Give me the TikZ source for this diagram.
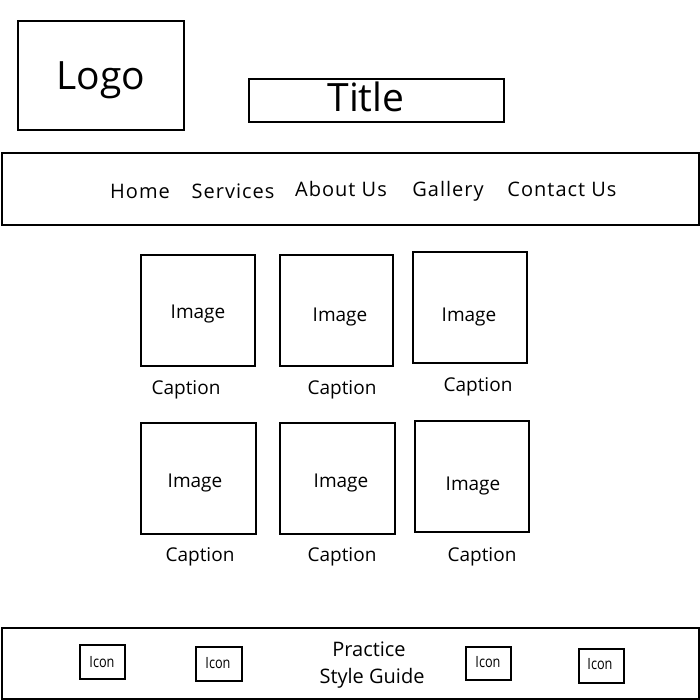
\documentclass[tikz,border=0pt]{standalone}
\usepackage{fontspec}
\setmainfont{Open Sans}
\newfontfamily\condfont[FakeStretch=0.82]{Open Sans}
\newfontfamily\navfont[LetterSpace=5]{Open Sans}
\begin{document}
\begin{tikzpicture}[x=1pt,y=-1pt,
  frame/.style={draw=black,line width=2pt},
  txt/.style={anchor=base,inner sep=0pt,font=\fontsize{19}{22}\selectfont},
  navtxt/.style={anchor=base,inner sep=0pt,font=\navfont\fontsize{20}{23}\selectfont},
  foottxt/.style={anchor=base,inner sep=0pt,font=\fontsize{20}{23}\selectfont},
  big/.style={anchor=base,inner sep=0pt,font=\fontsize{39}{44}\selectfont},
  icontxt/.style={anchor=base,inner sep=0pt,font=\condfont\fontsize{15.5}{17}\selectfont}]
\useasboundingbox[fill=white] (0,0) rectangle (700,700);
% header
\draw[frame] (18,21) rectangle (184,130);
\node[big] (logo) at (101,90) {Logo};
\draw[frame] (249,79) rectangle (504,122);
\node[big] (title) at (366,112) {Title};
% nav
\draw[frame] (2,153) rectangle (699,225);
\node[navtxt] (home) at (140,199) {Home};
\node[navtxt] (services) at (233,199) {Services};
\node[navtxt] (about) at (341,197) {About Us};
\node[navtxt] (gallery) at (448,197) {Gallery};
\node[navtxt] (contact) at (562,197) {Contact Us};
% images row 1
\draw[frame] (141,255) rectangle (255,366);
\draw[frame] (280,255) rectangle (393,366);
\draw[frame] (413,252) rectangle (527,363);
\node[txt] (img1) at (198,318) {Image};
\node[txt] (img2) at (340,321) {Image};
\node[txt] (img3) at (469,321) {Image};
\node[txt] (cap1) at (186,394) {Caption};
\node[txt] (cap2) at (342,394) {Caption};
\node[txt] (cap3) at (478,391) {Caption};
% images row 2
\draw[frame] (141,423) rectangle (256,534);
\draw[frame] (280,423) rectangle (395,534);
\draw[frame] (415,421) rectangle (529,532);
\node[txt] (img4) at (195,487) {Image};
\node[txt] (img5) at (341,487) {Image};
\node[txt] (img6) at (473,490) {Image};
\node[txt] (cap4) at (200,561) {Caption};
\node[txt] (cap5) at (342,561) {Caption};
\node[txt] (cap6) at (482,561) {Caption};
% footer
\draw[frame] (2,628) rectangle (699,699);
\draw[frame] (80,645) rectangle (125,679);
\draw[frame] (196,647) rectangle (242,681);
\draw[frame] (466,647) rectangle (511,680);
\draw[frame] (579,649) rectangle (624,683);
\node[icontxt] (icon1) at (102,667) {Icon};
\node[icontxt] (icon2) at (218,668) {Icon};
\node[icontxt] (icon3) at (488,667) {Icon};
\node[icontxt] (icon4) at (600,669) {Icon};
\node[foottxt] (practice) at (369,656) {Practice};
\node[foottxt] (guide) at (372,683) {Style Guide};
\end{tikzpicture}
\end{document}
